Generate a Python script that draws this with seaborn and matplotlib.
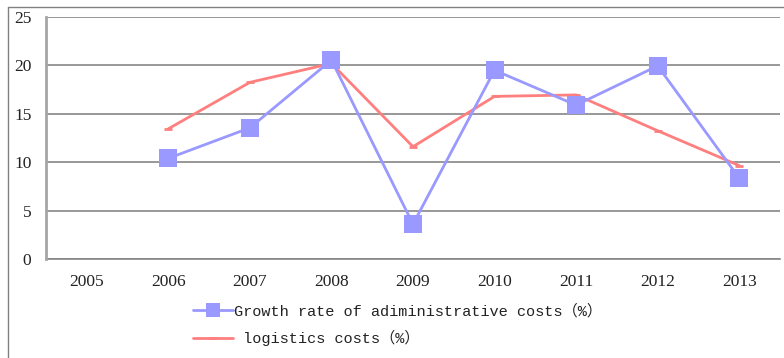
import matplotlib
matplotlib.use("Agg")
import matplotlib.pyplot as plt
from matplotlib.lines import Line2D
import numpy as np
import pandas as pd
import seaborn as sns

years = ["2005", "2006", "2007", "2008", "2009", "2010", "2011", "2012", "2013"]
admin_growth = [np.nan, 10.4, 13.55, 20.55, 3.6, 19.5, 15.9, 19.95, 8.35]
logistics = [np.nan, 13.45, 18.25, 20.2, 11.6, 16.8, 16.95, 13.25, 9.65]
yticks = [0, 5, 10, 15, 20, 25]

admin_label = "Growth rate of adiministrative costs（%）"
logistics_label = " logistics costs（%）"

BLUE = "#9999FF"
RED = "#FF7F7F"
GRID = "#868686"

sns.set_style("white")
plt.rcParams["font.family"] = ["Liberation Serif", "DejaVu Serif"]

W, H = 784, 358
fig = plt.figure(figsize=(W / 100, H / 100), dpi=100)
ax = fig.add_axes([46 / W, (H - 259) / H, (780 - 46) / W, (259 - 17) / H])

pos = np.arange(len(years))
df = pd.DataFrame({"pos": pos, "admin": admin_growth, "logistics": logistics})

sns.lineplot(data=df, x="pos", y="admin", ax=ax, color=BLUE, linewidth=2.0,
             marker="s", markersize=12.5, markeredgewidth=0,
             markerfacecolor=BLUE, zorder=4)
sns.lineplot(data=df, x="pos", y="logistics", ax=ax, color=RED, linewidth=2.0,
             marker="_", markersize=6, markeredgewidth=2.0,
             markeredgecolor=RED, zorder=3)

ax.set_xlim(-0.5, len(years) - 0.5)
ax.set_ylim(0, 25)
ax.set_xlabel("")
ax.set_ylabel("")

# category labels centered, tick marks on the category boundaries
ax.set_xticks(pos)
ax.set_xticklabels(years, fontsize=12.5, color="#222222")
ax.tick_params(axis="x", which="major", length=0, pad=11)
ax.set_xticks(np.arange(-0.5, len(years), 1.0), minor=True)
ax.tick_params(axis="x", which="minor", length=5, width=1, color=GRID, direction="out")

ax.set_yticks(yticks)
ax.set_yticklabels([str(v) for v in yticks], fontsize=12.5, color="#222222")
ax.tick_params(axis="y", which="major", length=5, width=1, color=GRID, direction="out", pad=5.5)

ax.grid(axis="y", color=GRID, linewidth=1.2)
ax.grid(axis="x", visible=False)
ax.set_axisbelow(True)
for side in ("top", "right"):
    ax.spines[side].set_visible(False)
ax.spines["left"].set_color("#A6A6A6")
ax.spines["left"].set_linewidth(2.0)
ax.spines["bottom"].set_color(GRID)
ax.spines["bottom"].set_linewidth(1.2)
ax.spines["bottom"].set_zorder(0)

# legend entries stacked below the plot
handles = [
    Line2D([], [], color=BLUE, linewidth=2.0, marker="s", markersize=10,
           markeredgewidth=0, markerfacecolor=BLUE),
    Line2D([], [], color=RED, linewidth=2.0, marker="_", markersize=6,
           markeredgewidth=2.0, markeredgecolor=RED),
]
fig.legend(handles, [admin_label, logistics_label],
           loc="upper left", bbox_to_anchor=(193 / W, 1 - 304 / H),
           frameon=False, handlelength=2.6, handletextpad=0.1,
           labelspacing=0.75, borderaxespad=0, borderpad=0,
           prop={"family": ["Liberation Mono", "Noto Sans CJK SC"], "size": 11.0},
           labelcolor="#222222")

# outer chart frame
fig.add_artist(Line2D([8 / W, 8 / W], [0, 1 - 7 / H], transform=fig.transFigure,
                      color="#808080", linewidth=1.0))
fig.add_artist(Line2D([8 / W, 1], [1 - 7 / H, 1 - 7 / H], transform=fig.transFigure,
                      color="#808080", linewidth=1.0))

fig.savefig("out.png", dpi=100)
